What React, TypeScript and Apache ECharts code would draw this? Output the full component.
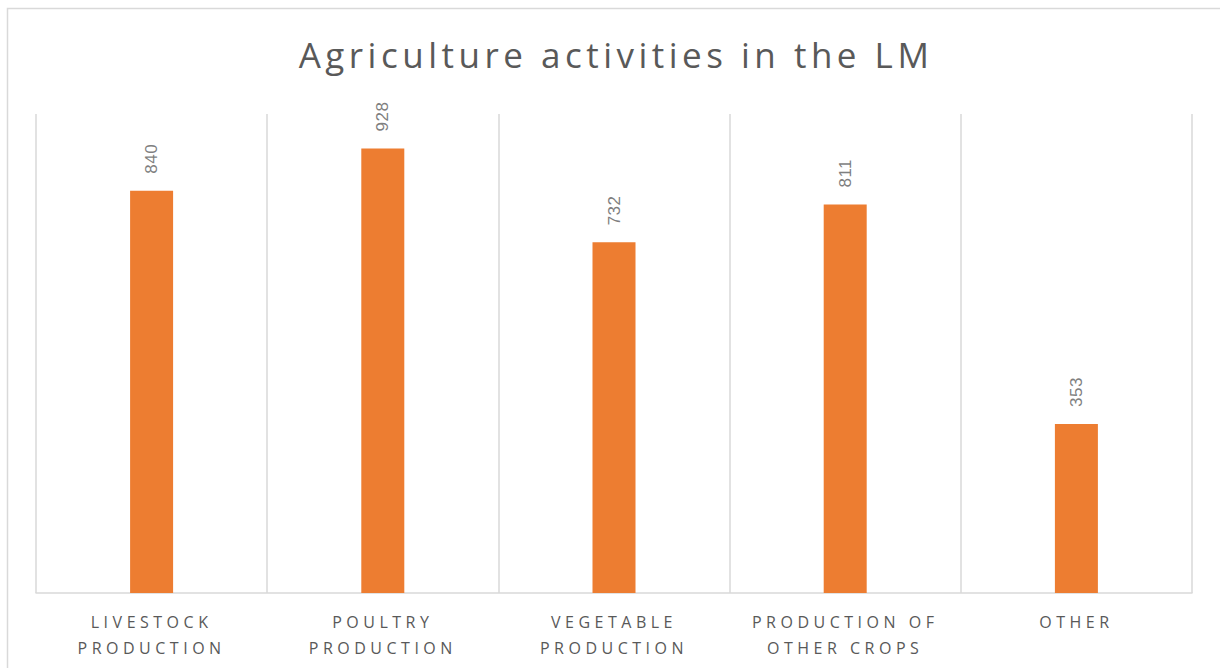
import React, { useEffect, useRef } from "react";
import * as echarts from "echarts";

const categories = [
  "LIVESTOCK\nPRODUCTION",
  "POULTRY\nPRODUCTION",
  "VEGETABLE\nPRODUCTION",
  "PRODUCTION OF\nOTHER CROPS",
  "OTHER",
];
const values = [840, 928, 732, 811, 353];
const titleText = "Agriculture activities in the LM";

export default function App() {
  const ref = useRef<HTMLDivElement>(null);
  useEffect(() => {
    if (!ref.current) return;
    const chart = echarts.init(ref.current, undefined, { renderer: "svg" });
    chart.setOption({
      animation: false,
      backgroundColor: "#ffffff",
      title: {
        text: titleText,
        left: 611,
        textAlign: "center",
        top: 32,
        textStyle: {
          fontFamily: "Open Sans",
          fontSize: 35,
          fontWeight: "normal",
          color: "#595959",
        },
      },
      graphic: [
        {
          type: "rect",
          shape: { x: 7.5, y: 8.5, width: 1240, height: 700 },
          style: { fill: "none", stroke: "#d9d9d9", lineWidth: 1.5 },
          silent: true,
        },
      ],
      grid: { left: 36, right: 28, top: 114, bottom: 75 },
      xAxis: {
        type: "category",
        data: categories,
        axisLine: { show: true, lineStyle: { color: "#d9d9d9", width: 1.5 } },
        axisTick: { show: false },
        splitLine: { show: true, lineStyle: { color: "#d9d9d9", width: 1.5 } },
        axisLabel: {
          margin: 16,
          fontFamily: "Open Sans",
          fontSize: 16,
          lineHeight: 26,
          color: "#595959",
          interval: 0,
        },
      },
      yAxis: {
        type: "value",
        min: 0,
        max: 1000,
        show: false,
        splitLine: { show: false },
      },
      series: [
        {
          type: "bar",
          data: values,
          barWidth: 43,
          itemStyle: { color: "#ED7D31" },
          label: {
            show: true,
            position: "top",
            rotate: 90,
            align: "left",
            verticalAlign: "middle",
            distance: 17,
            fontFamily: "Liberation Sans",
            fontSize: 17,
            color: "#7f7f7f",
          },
        },
      ],
    });
    return () => chart.dispose();
  }, []);
  return (
    <>
      <style>{`.cwrap text { letter-spacing: 4.5px; } .cwrap text[style*="35px"] { letter-spacing: 4.5px; } .cwrap text[style*="Liberation"] { letter-spacing: 0.5px; }`}</style>
      <div
        ref={ref}
        className="cwrap"
        style={{ position: "absolute", left: 0, top: 0, width: 1220, height: 668 }}
      />
    </>
  );
}
